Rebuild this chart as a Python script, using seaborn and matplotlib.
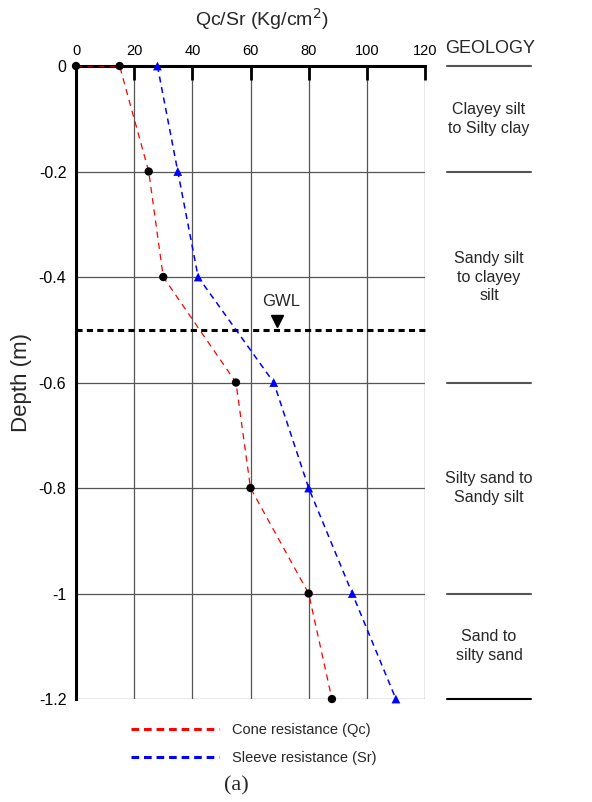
import matplotlib.pyplot as plt
import seaborn as sns
from matplotlib.lines import Line2D

# axis ticks
x_ticks = [0, 20, 40, 60, 80, 100, 120]
depth_ticks = [0, -0.2, -0.4, -0.6, -0.8, -1.0, -1.2]
depth_labels = ["0", "-0.2", "-0.4", "-0.6", "-0.8", "-1", "-1.2"]

# cone resistance (Qc)
qc_depth = [0, 0, -0.2, -0.4, -0.6, -0.8, -1.0, -1.2]
qc_values = [0, 15, 25, 30, 55, 60, 80, 88]

# sleeve resistance (Sr)
sr_depth = [0, -0.2, -0.4, -0.6, -0.8, -1.0, -1.2]
sr_values = [28, 35, 42, 68, 80, 95, 110]

# ground water level
gwl_depth = -0.5
gwl_x = 69

# geology column
layer_bounds = [0, -0.2, -0.6, -1.0, -1.2]
layer_names = [
    "Clayey silt\nto Silty clay",
    "Sandy silt\nto clayey\nsilt",
    "Silty sand to\nSandy silt",
    "Sand to\nsilty sand",
]

sns.set_style("white")
plt.rcParams["font.family"] = ["Liberation Sans", "DejaVu Sans"]
plt.rcParams["axes.unicode_minus"] = False

fig = plt.figure(figsize=(5.92, 8.02), dpi=100)
ax = fig.add_axes([0.1284, 0.1284, 0.5895, 0.7893])

ax.grid(True, color="#555555", lw=0.9)
ax.set_axisbelow(True)

sns.lineplot(x=qc_values, y=qc_depth, sort=False, estimator=None, ax=ax,
             color="red", lw=0.9, linestyle=(0, (5, 4)), zorder=3)
sns.lineplot(x=sr_values, y=sr_depth, sort=False, estimator=None, ax=ax,
             color="blue", lw=1.1, linestyle=(0, (4, 3)), zorder=3)
sns.scatterplot(x=qc_values, y=qc_depth, ax=ax, color="black", s=36,
                marker="o", edgecolor="none", zorder=4, clip_on=False)
sns.scatterplot(x=sr_values, y=sr_depth, ax=ax, color="blue", s=40,
                marker="^", edgecolor="none", zorder=4, clip_on=False)

# GWL
ax.plot([0, 121], [gwl_depth, gwl_depth], color="black", lw=2.2,
        linestyle=(0, (2, 1.4)), clip_on=False, zorder=2)
ax.plot([gwl_x], [gwl_depth + 0.017], marker="v", color="black",
        markersize=9, clip_on=False)
ax.text(gwl_x + 1.5, gwl_depth + 0.053, "GWL", ha="center", va="center",
        fontsize=12)

ax.set_xlim(0, 120)
ax.set_ylim(-1.2, 0)
ax.set_xticks(x_ticks)
ax.set_yticks(depth_ticks)
ax.set_yticklabels(depth_labels)
ax.xaxis.tick_top()
ax.tick_params(axis="x", direction="in", length=10, width=2, pad=6,
               labelsize=10.5, colors="black")
ax.tick_params(axis="y", direction="out", length=5, width=2, pad=2,
               labelsize=11.5, colors="black")

for side in ["right", "bottom"]:
    ax.spines[side].set_visible(False)
for side in ["top", "left"]:
    ax.spines[side].set_linewidth(2.2)
    ax.spines[side].set_color("black")

ax.xaxis.set_label_position("top")
ax.set_xlabel(r"Qc/Sr (Kg/cm$^{2}$)", fontsize=14)
ax.xaxis.set_label_coords(0.533, 1.063)
ax.set_ylabel("Depth (m)", fontsize=16)
ax.yaxis.set_label_coords(-0.126, 0.5)

# geology column
ax.text(142.4, 0.034, "GEOLOGY", ha="center", va="center", fontsize=13)
for i, b in enumerate(layer_bounds):
    col = "black" if i == len(layer_bounds) - 1 else "#555555"
    ax.plot([127.5, 156.5], [b, b], color=col, lw=1.5, clip_on=False)
for name, top, bot in zip(layer_names, layer_bounds[:-1], layer_bounds[1:]):
    ax.text(142, (top + bot) / 2, name, ha="center", va="center",
            fontsize=11.5, linespacing=1.3)

# legend
handles = [
    Line2D([], [], color="red", lw=2.2, linestyle=(0, (2.5, 1.6))),
    Line2D([], [], color="blue", lw=2.2, linestyle=(0, (2.5, 1.6))),
]
fig.legend(handles, ["Cone resistance (Qc)", "Sleeve resistance (Sr)"],
           loc="upper left", bbox_to_anchor=(0.222, 0.098), frameon=False,
           fontsize=10.5, handlelength=6.0, handletextpad=0.9,
           labelspacing=0.95, borderpad=0, borderaxespad=0)

fig.text(0.4, 0.02, "(a)", ha="center", va="center", fontsize=16,
         family=["Liberation Serif", "DejaVu Serif"])

fig.savefig("out.png", dpi=100)
plt.close(fig)
